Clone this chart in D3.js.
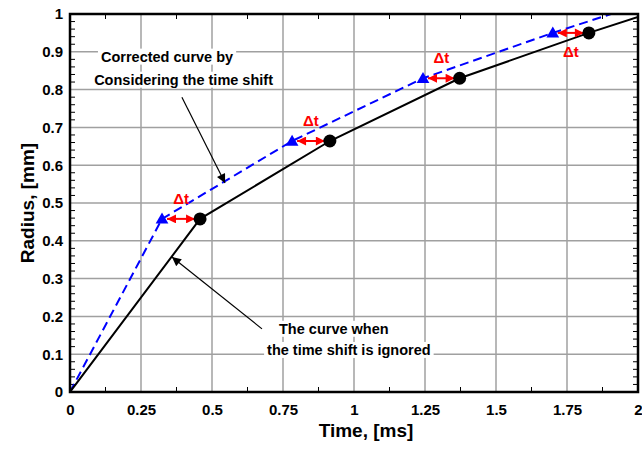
<!DOCTYPE html>
<html>
<head>
<meta charset="utf-8">
<script src="https://cdn.jsdelivr.net/npm/d3@7"></script>
<style>
  body { margin: 0; background: #fff; }
  svg { font-family: 'Liberation Sans', Arial, sans-serif; font-weight: bold; }
</style>
</head>
<body>
<svg id="chart" width="642" height="450"></svg>
<script>
// values
var timeIgnored = [0, 0.458, 0.915, 1.372, 1.827, 2.0]
var radiusIgnored = [0, 0.458, 0.664, 0.830, 0.950, 0.992]
var timeCorrected = [0, 0.324, 0.782, 1.243, 1.700, 1.905]
var radiusCorrected = [0, 0.458, 0.664, 0.830, 0.950, 1.0]
var markerIdx = [1, 2, 3, 4]
var xTicks = [0, 0.25, 0.5, 0.75, 1, 1.25, 1.5, 1.75, 2]
var yTicks = [0, 0.1, 0.2, 0.3, 0.4, 0.5, 0.6, 0.7, 0.8, 0.9, 1]
var deltaLabelSide = [-1, -1, -1, 1]   // -1 above arrow, 1 below

var svg = d3.select('#chart'),
  margin = { top: 14, right: 4, bottom: 58, left: 70 },
  width = +svg.attr('width') - margin.left - margin.right,
  height = +svg.attr('height') - margin.top - margin.bottom

var x = d3.scaleLinear().domain([0, 2]).range([0, width])
var y = d3.scaleLinear().domain([0, 1]).range([height, 0])

var defs = svg.append('defs')
defs.append('clipPath').attr('id', 'clip')
  .append('rect').attr('width', width).attr('height', height)

function marker(id, color, w, h) {
  defs.append('marker')
    .attr('id', id)
    .attr('viewBox', '0 0 10 10')
    .attr('refX', 10).attr('refY', 5)
    .attr('markerUnits', 'userSpaceOnUse')
    .attr('markerWidth', w).attr('markerHeight', h)
    .attr('orient', 'auto-start-reverse')
    .append('path').attr('d', 'M0,0 L10,5 L0,10 Z').attr('fill', color)
}
marker('arrBlack', '#000', 13, 9)
marker('arrRed', '#f00', 10, 9)

var g = svg.append('g').attr('transform', 'translate(' + margin.left + ',' + margin.top + ')')

// grid
g.append('g').selectAll('line').data(xTicks.slice(1, -1)).enter().append('line')
  .attr('x1', x).attr('x2', x).attr('y1', 0).attr('y2', height)
  .attr('stroke', '#a0a0a0').attr('stroke-width', 1.5)
g.append('g').selectAll('line').data(yTicks.slice(1, -1)).enter().append('line')
  .attr('y1', y).attr('y2', y).attr('x1', 0).attr('x2', width)
  .attr('stroke', '#a0a0a0').attr('stroke-width', 1.5)

// minor ticks (inward) on all four sides
var xMinor = d3.range(0.125, 2, 0.25)
var yMinor = d3.range(0, 1.0001, 0.02).filter(function (d) { return Math.abs(d * 10 - Math.round(d * 10)) > 1e-6 })
var ticksG = g.append('g').attr('stroke', '#000').attr('stroke-width', 1)
xMinor.forEach(function (d) {
  ticksG.append('line').attr('x1', x(d)).attr('x2', x(d)).attr('y1', height).attr('y2', height - 5)
  ticksG.append('line').attr('x1', x(d)).attr('x2', x(d)).attr('y1', 0).attr('y2', 5)
})
yMinor.forEach(function (d) {
  ticksG.append('line').attr('y1', y(d)).attr('y2', y(d)).attr('x1', 0).attr('x2', 5)
  ticksG.append('line').attr('y1', y(d)).attr('y2', y(d)).attr('x1', width).attr('x2', width - 5)
})

// axes
var fmt = function (d) { return String(+d.toFixed(2)) }
var xAxis = g.append('g').attr('transform', 'translate(0,' + height + ')')
  .call(d3.axisBottom(x).tickValues(xTicks).tickSize(0).tickPadding(12).tickFormat(fmt))
var yAxis = g.append('g')
  .call(d3.axisLeft(y).tickValues(yTicks).tickSize(0).tickPadding(7).tickFormat(fmt))
;[xAxis, yAxis].forEach(function (a) {
  a.select('.domain').remove()
  a.selectAll('text').attr('font-size', 15).attr('font-family', 'Liberation Sans, Arial').attr('font-weight', 'bold').attr('fill', '#000')
})

// annotation labels sit on white boxes that hide the grid
function note(tx, ty, label) {
  var t = g.append('text').attr('x', x(tx)).attr('y', y(ty))
    .attr('font-size', 14.5).attr('fill', '#000').text(label)
  var b = t.node().getBBox()
  g.insert('rect', function () { return t.node() })
    .attr('x', b.x - 3).attr('y', b.y).attr('width', b.width + 6).attr('height', b.height)
    .attr('fill', '#fff')
}
note(0.109, 0.874, 'Corrected curve by')
note(0.085, 0.813, 'Considering the time shift')
note(0.736, 0.154, 'The curve when')
note(0.694, 0.098, 'the time shift is ignored')

// curves
var line = d3.line().x(function (d) { return x(d[0]) }).y(function (d) { return y(d[1]) })
var ignored = timeIgnored.map(function (t, i) { return [t, radiusIgnored[i]] })
var corrected = timeCorrected.map(function (t, i) { return [t, radiusCorrected[i]] })

var curves = g.append('g').attr('clip-path', 'url(#clip)')
curves.append('path').datum(corrected).attr('d', line)
  .attr('fill', 'none').attr('stroke', '#0000ff').attr('stroke-width', 2).attr('stroke-dasharray', '9,5')
curves.append('path').datum(ignored).attr('d', line)
  .attr('fill', 'none').attr('stroke', '#000').attr('stroke-width', 2)

// delta t arrows
markerIdx.forEach(function (i, k) {
  var x1 = x(timeCorrected[i]) + 5, x2 = x(timeIgnored[i]) - 5, yy = y(radiusIgnored[i])
  g.append('line').attr('x1', x1).attr('x2', x2).attr('y1', yy).attr('y2', yy)
    .attr('stroke', '#f00').attr('stroke-width', 2)
    .attr('marker-start', 'url(#arrRed)').attr('marker-end', 'url(#arrRed)')
  g.append('text').attr('x', (x1 + x2) / 2).attr('y', yy + (deltaLabelSide[k] < 0 ? -15 : 24))
    .attr('text-anchor', 'middle').attr('font-size', 15).attr('fill', '#f00').text('\u0394t')
})

// markers
markerIdx.forEach(function (i) {
  g.append('circle').attr('cx', x(timeIgnored[i])).attr('cy', y(radiusIgnored[i])).attr('r', 6.5).attr('fill', '#000')
  g.append('path').attr('d', d3.symbol().type(d3.symbolTriangle).size(70)())
    .attr('transform', 'translate(' + x(timeCorrected[i]) + ',' + (y(radiusCorrected[i]) + 1) + ')')
    .attr('fill', '#0000ff')
})

// frame
g.append('rect').attr('width', width).attr('height', height)
  .attr('fill', 'none').attr('stroke', '#000').attr('stroke-width', 2.5)

// annotation pointers
g.append('line').attr('x1', x(0.394)).attr('y1', y(0.78)).attr('x2', x(0.546)).attr('y2', y(0.553))
  .attr('stroke', '#000').attr('stroke-width', 1.2).attr('marker-end', 'url(#arrBlack)')
g.append('line').attr('x1', x(0.676)).attr('y1', y(0.167)).attr('x2', x(0.359)).attr('y2', y(0.357))
  .attr('stroke', '#000').attr('stroke-width', 1.2).attr('marker-end', 'url(#arrBlack)')

// axis titles
svg.append('text').attr('x', 366).attr('y', 437)
  .attr('text-anchor', 'middle').attr('font-size', 19).text('Time, [ms]')
svg.append('text').attr('transform', 'translate(34,' + (margin.top + height / 2) + ') rotate(-90)')
  .attr('text-anchor', 'middle').attr('font-size', 19).text('Radius, [mm]')
</script>
</body>
</html>
